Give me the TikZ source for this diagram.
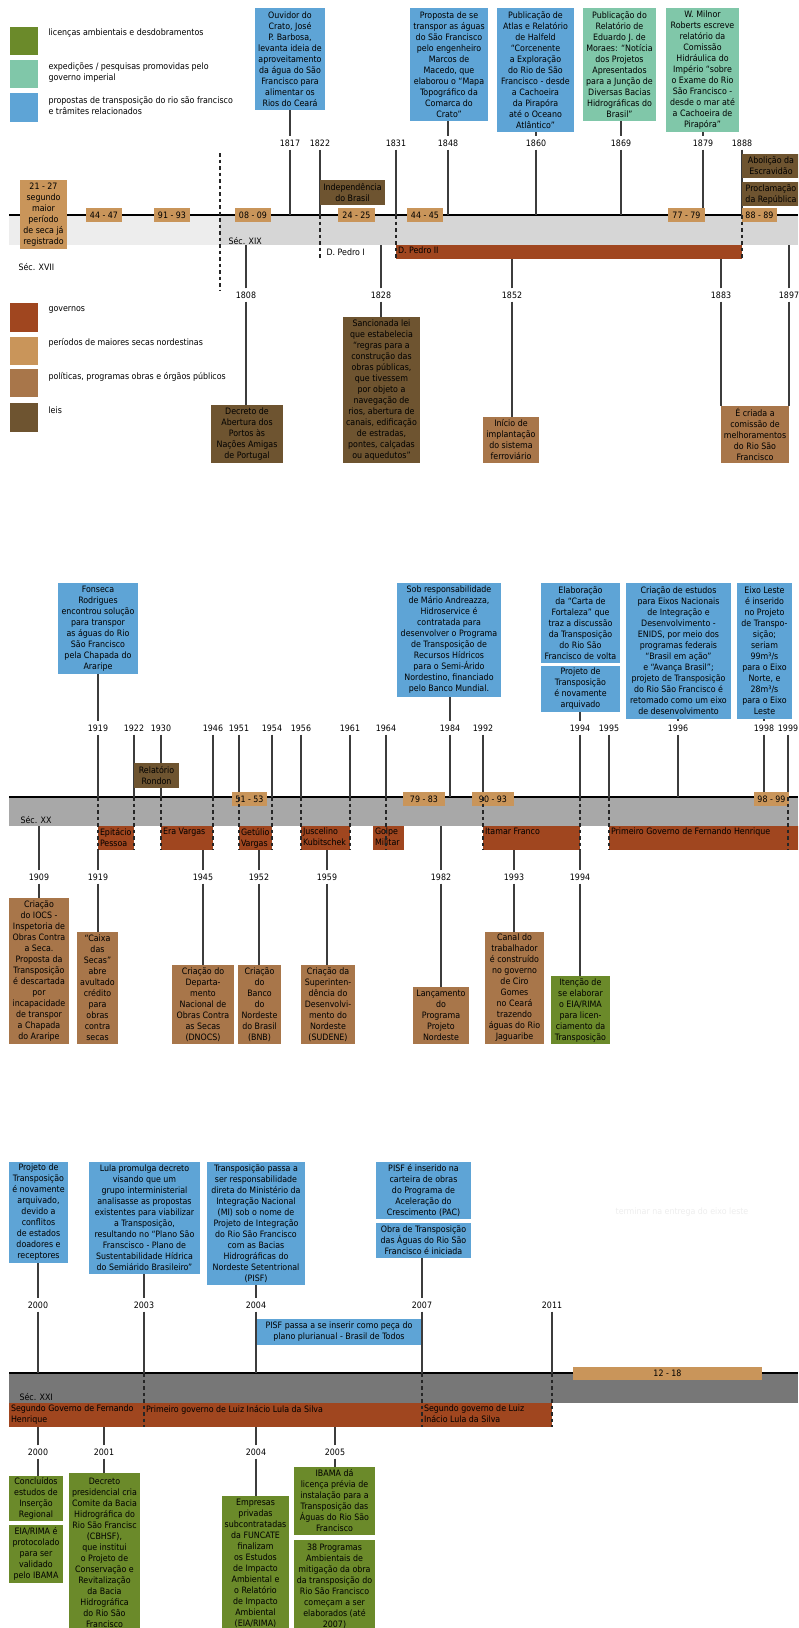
\documentclass[tikz,border=0pt]{standalone}
\usepackage{fontspec}
\setmainfont{DejaVu Sans Condensed}
\usepackage{tikz}
\usetikzlibrary{calc}
\definecolor{cblue}{HTML}{5EA4D6}
\definecolor{cteal}{HTML}{80C7A9}
\definecolor{cgreen}{HTML}{6B8A2A}
\definecolor{cgov}{HTML}{A0461F}
\definecolor{cseca}{HTML}{C9955A}
\definecolor{cpol}{HTML}{A8764A}
\definecolor{cleis}{HTML}{6E5430}
\definecolor{cline}{HTML}{3C3C3C}
\definecolor{bandA}{HTML}{EDEDED}
\definecolor{bandB}{HTML}{D6D6D6}
\definecolor{bandC}{HTML}{A8A8A8}
\definecolor{bandD}{HTML}{777777}

\begin{document}
\begin{tikzpicture}[x=1pt,y=-1pt,font=\fontsize{8.8}{11}\selectfont,
  ev/.style={inner sep=0pt,align=center},
  pr/.style={ev,fill=cblue}, ex/.style={ev,fill=cteal}, li/.style={ev,fill=cgreen},
  se/.style={ev,fill=cseca}, po/.style={ev,fill=cpol}, le/.style={ev,fill=cleis},
  go/.style={inner sep=0pt,fill=cgov},
  yr/.style={inner xsep=1pt,inner ysep=3pt},
  tick/.style={draw=cline,line width=1.2pt},
  cut/.style={draw=black!85,line width=1.1pt,dash pattern=on 3.5pt off 3pt}]
 \def\ebox#1#2#3#4#5#6#7{\pgfmathsetmacro\bw{#5-#3}\pgfmathsetmacro\bh{#6-#4}%
   \node[#2,minimum width=\bw pt,minimum height=\bh pt] (#1) at ({(#3+#5)/2},{(#4+#6)/2}) {#7};}
 \def\gov#1#2#3#4#5#6{\pgfmathsetmacro\bw{#4-#2}\pgfmathsetmacro\bh{#5-#3}%
   \node[go,minimum width=\bw pt,minimum height=\bh pt] (#1) at ({(#2+#4)/2},{(#3+#5)/2}) {};
   \node[anchor=north west,inner sep=0pt,align=left] (#1t) at ([xshift=2pt,yshift=-2pt]#1.north west) {#6};}
 \useasboundingbox (0,0) rectangle (798,1628);
 \clip (0,0) rectangle (798,1628);

 % legendas
 \ebox{kli}{li}{10}{27}{38}{55}{}
 \node[anchor=west] (tli) at (45,33) {licenças ambientais e desdobramentos};
 \ebox{kex}{ex}{10}{60}{38}{88}{}
 \node[anchor=west,align=left] (tex) at (45,72.5) {expedições / pesquisas promovidas pelo\\governo imperial};
 \ebox{kpr}{pr}{10}{93}{38}{122}{}
 \node[anchor=west,align=left] (tpr) at (45,105.5) {propostas de transposição do rio são francisco\\e trâmites relacionados};
 \ebox{kgo}{go}{10}{303}{38}{332}{}
 \node[anchor=west] (tgo) at (45,310) {governos};
 \ebox{kse}{se}{10}{337}{38}{365}{}
 \node[anchor=west] (tse) at (45,343) {períodos de maiores secas nordestinas};
 \ebox{kpo}{po}{10}{369}{38}{397}{}
 \node[anchor=west] (tpo) at (45,377) {políticas, programas obras e órgãos públicos};
 \ebox{kle}{le}{10}{403}{38}{432}{}
 \node[anchor=west] (tle) at (45,410) {leis};

 % seculo XVII e XIX
 \fill[bandA] (9,216) rectangle (220,245);
 \fill[bandB] (220,216) rectangle (798,245);
 \coordinate (axA) at (9,215); \coordinate (bbA) at (9,245);
 \draw[line width=2.6pt] (axA) -- ++(789,0);
 \node[anchor=west] (s17) at (15,267) {Séc. XVII};
 \node[anchor=west] (s19) at (225,241) {Séc. XIX};
 \foreach \y/\x in {1817/290,1822/320,1831/396,1848/448,1860/536,1869/621,1879/703,1888/742}
   \node[yr] (y\y) at (\x,143) {\y};
 \foreach \y/\x in {1808/246,1828/381,1852/512,1883/721,1897/789}
   \node[yr] (z\y) at (\x,295) {\y};
 \foreach \y in {1817,1822,1831,1848,1860,1869,1879,1888}
   \draw[tick] (y\y) -- (y\y |- axA);
 \ebox{b1817}{pr}{255}{8}{325}{110}{Ouvidor do\\Crato, José\\P. Barbosa,\\levanta ideia de\\aproveitamento\\da água do São\\Francisco para\\alimentar os\\Rios do Ceará}
 \ebox{b1848}{pr}{410}{8}{488}{121}{Proposta de se\\transpor as águas\\do São Francisco\\pelo engenheiro\\Marcos de\\Macedo, que\\elaborou o “Mapa\\Topográfico da\\Comarca do\\Crato”}
 \ebox{b1860}{pr}{497}{8}{574}{132}{Publicação de\\Atlas e Relatório\\de Halfeld\\“Corcenente\\a Exploração\\do Rio de São\\Francisco - desde\\a Cachoeira\\da Pirapóra\\até o Oceano\\Atlântico”}
 \ebox{b1869}{ex}{583}{8}{656}{121}{Publicação do\\Relatório de\\Eduardo J. de\\Moraes: “Notícia\\dos Projetos\\Apresentados\\para a Junção de\\Diversas Bacias\\Hidrográficas do\\Brasil”}
 \ebox{b1879}{ex}{666}{8}{739}{132}{W. Milnor\\Roberts escreve\\relatório da\\Comissão\\Hidráulica do\\Império “sobre\\o Exame do Rio\\São Francisco -\\desde o mar até\\a Cachoeira de\\Pirapóra”}
 \ebox{lind}{le}{320}{180}{385}{205}{Independência\\do Brasil}
 \ebox{labo}{le}{742}{154}{800}{178}{Abolição da\\Escravidão}
 \ebox{lpro}{le}{742}{182}{800}{206}{Proclamação\\da República}
 \ebox{s21}{se}{20}{180}{67}{249}{21 - 27\\segundo\\maior\\período\\de seca já\\registrado}
 \ebox{s44}{se}{86}{208}{122}{222}{44 - 47}
 \ebox{s91}{se}{154}{208}{190}{222}{91 - 93}
 \ebox{s08}{se}{235}{208}{271}{222}{08 - 09}
 \ebox{s24}{se}{338}{208}{375}{222}{24 - 25}
 \ebox{s45}{se}{407}{208}{443}{222}{44 - 45}
 \ebox{s77}{se}{668}{208}{705}{222}{77 - 79}
 \ebox{s88}{se}{742}{208}{777}{222}{88 - 89}
 \gov{gP2}{396}{245}{742}{259}{D. Pedro II}
 \node[anchor=west] (gP1) at (323,252) {D. Pedro I};
 \draw[cut] (220,153) -- (220,290);
 \draw[cut] (y1822 |- axA) -- ++(0,43);
 \foreach \y in {1831,1888} \draw[cut] (y\y |- axA) -- (y\y |- gP2.south);
 \ebox{c1808}{le}{211}{405}{283}{463}{Decreto de\\Abertura dos\\Portos às\\Nações Amigas\\de Portugal}
 \ebox{c1828}{le}{343}{317}{420}{463}{Sancionada lei\\que estabelecia\\“regras para a\\construção das\\obras públicas,\\que tivessem\\por objeto a\\navegação de\\rios, abertura de\\canais, edificação\\de estradas,\\pontes, calçadas\\ou aquedutos”}
 \ebox{c1852}{po}{483}{417}{539}{463}{Início de\\implantação\\do sistema\\ferroviário}
 \ebox{c1883}{po}{721}{406}{789}{463}{É criada a\\comissão de\\melhoramentos\\do Rio São\\Francisco}
 \foreach \y in {1817,1848,1860,1879} \draw[tick] (y\y |- b\y.south) -- (y\y);
 \draw[tick] (y1869 |- b1869.south) -- (y1869);
 \foreach \y in {1808,1828,1897} \draw[tick] (z\y) -- (z\y |- bbA);
 \foreach \y in {1852,1883} \draw[tick] (z\y) -- (z\y |- gP2.south);
 \foreach \y in {1808,1828,1852,1883} \draw[tick] (z\y) -- (z\y |- c\y.north);
 \draw[tick] (z1897) -- (z1897 |- c1883.north);

 % seculo XX
 \fill[bandC] (9,798) rectangle (798,826);
 \coordinate (axB) at (9,797); \coordinate (bbB) at (9,826);
 \draw[line width=2pt] (axB) -- ++(789,0);
 \node[anchor=west] (s20) at (17,820) {Séc. XX};
 \foreach \y/\x in {1919/98,1922/134,1930/161,1946/213,1951/239,1954/272,1956/301,1961/350,1964/386,
   1984/450,1992/483,1994/580,1995/609,1996/678,1998/764,1999/788}
   {\node[yr] (y\y) at (\x,728) {\y};
    \draw[tick] (y\y) -- (y\y |- axB);}
 \foreach \y/\x in {1909/39,1919/98,1945/203,1952/259,1959/327,1982/441,1993/514,1994/580}
   \node[yr] (z\y) at (\x,877) {\y};
 \ebox{b1919}{pr}{58}{583}{138}{674}{Fonseca\\Rodrigues\\encontrou solução\\para transpor\\as águas do Rio\\São Francisco\\pela Chapada do\\Araripe}
 \ebox{b1984}{pr}{397}{583}{501}{697}{Sob responsabilidade\\de Mário Andreazza,\\Hidroservice é\\contratada para\\desenvolver o Programa\\de Transposição de\\Recursos Hídricos\\para o Semi-Árido\\Nordestino, financiado\\pelo Banco Mundial.}
 \ebox{bcar}{pr}{541}{583}{620}{663}{Elaboração\\da “Carta de\\Fortaleza” que\\traz a discussão\\da Transposição\\do Rio São\\Francisco de volta}
 \ebox{b1994}{pr}{541}{666}{620}{712}{Projeto de\\Transposição\\é novamente\\arquivado}
 \ebox{b1996}{pr}{626}{583}{731}{719}{Criação de estudos\\para Eixos Nacionais\\de Integração e\\Desenvolvimento -\\ENIDS, por meio dos\\programas federais\\“Brasil em ação”\\e “Avança Brasil”;\\projeto de Transposição\\do Rio São Francisco é\\retomado como um eixo\\de desenvolvimento}
 \ebox{b1998}{pr}{737}{583}{792}{719}{Eixo Leste\\é inserido\\no Projeto\\de Transpo-\\sição;\\seriam\\99m³/s\\para o Eixo\\Norte, e\\28m³/s\\para o Eixo\\Leste}
 \ebox{lron}{le}{134}{763}{179}{788}{Relatório\\Rondon}
 \ebox{s51}{se}{232}{792}{267}{806}{51 - 53}
 \ebox{s79}{se}{403}{792}{445}{806}{79 - 83}
 \ebox{s90}{se}{472}{792}{514}{806}{90 - 93}
 \ebox{s98}{se}{754}{792}{789}{806}{98 - 99}
 \gov{gEP}{98}{826}{134}{850}{Epitácio\\Pessoa}
 \gov{gEV}{161}{826}{213}{850}{Era Vargas}
 \gov{gGV}{239}{826}{272}{850}{Getúlio\\Vargas}
 \gov{gJK}{301}{826}{350}{850}{Juscelino\\Kubitschek}
 \gov{gGM}{373}{826}{404}{850}{Golpe\\Militar}
 \gov{gIF}{483}{826}{580}{850}{Itamar Franco}
 \gov{gFH}{609}{826}{800}{850}{Primeiro Governo de Fernando Henrique}
 \foreach \y in {1919,1922,1930,1946,1951,1954,1956,1961,1964,1992,1994,1995,1999}
   \draw[cut] (y\y |- axB) -- (y\y |- gEP.south);
 \ebox{c1909}{po}{9}{898}{69}{1044}{Criação\\do IOCS -\\Inspetoria de\\Obras Contra\\a Seca.\\Proposta da\\Transposição\\é descartada\\por\\incapacidade\\de transpor\\a Chapada\\do Araripe}
 \ebox{c1919}{po}{77}{932}{118}{1044}{“Caixa\\das\\Secas”\\abre\\avultado\\crédito\\para\\obras\\contra\\secas}
 \ebox{c1945}{po}{172}{965}{234}{1044}{Criação do\\Departa-\\mento\\Nacional de\\Obras Contra\\as Secas\\(DNOCS)}
 \ebox{c1952}{po}{238}{965}{281}{1044}{Criação\\do\\Banco\\do\\Nordeste\\do Brasil\\(BNB)}
 \ebox{c1959}{po}{301}{965}{355}{1044}{Criação da\\Superinten-\\dência do\\Desenvolvi-\\mento do\\Nordeste\\(SUDENE)}
 \ebox{c1982}{po}{413}{987}{469}{1044}{Lançamento\\do\\Programa\\Projeto\\Nordeste}
 \ebox{c1993}{po}{485}{932}{544}{1044}{Canal do\\trabalhador\\é construído\\no governo\\de Ciro\\Gomes\\no Ceará\\trazendo\\águas do Rio\\Jaguaribe}
 \ebox{c1994}{li}{551}{976}{610}{1044}{Itenção de\\se elaborar\\o EIA/RIMA\\para licen-\\ciamento da\\Transposição}
 \foreach \y in {1919,1984,1994,1996,1998} \draw[tick] (y\y |- b\y.south) -- (y\y);
 \foreach \y in {1909,1982} \draw[tick] (z\y) -- (z\y |- bbB);
 \foreach \y/\g in {1919/gEP,1945/gEV,1952/gGV,1959/gJK,1993/gIF,1994/gIF}
   \draw[tick] (z\y) -- (z\y |- \g.south);
 \foreach \y in {1909,1919,1945,1952,1959,1982,1993,1994} \draw[tick] (z\y) -- (z\y |- c\y.north);

 % seculo XXI
 \fill[bandD] (9,1374) rectangle (798,1403);
 \coordinate (axC) at (9,1373);
 \draw[line width=1.5pt] (axC) -- ++(789,0);
 \node[anchor=west] (s21c) at (16,1397) {Séc. XXI};
 \foreach \y/\x in {2000/38,2003/144,2004/256,2007/422,2011/552}
   {\node[yr] (y\y) at (\x,1305) {\y};
    \draw[tick] (y\y) -- (y\y |- axC);}
 \foreach \y/\x in {2000/38,2001/104,2004/256,2005/335}
   \node[yr] (z\y) at (\x,1452) {\y};
 \ebox{b2000}{pr}{9}{1162}{68}{1263}{Projeto de\\Transposição\\é novamente\\arquivado,\\devido a\\conflitos\\de estados\\doadores e\\receptores}
 \ebox{b2003}{pr}{89}{1162}{200}{1274}{Lula promulga decreto\\visando que um\\grupo interministerial\\analisasse as propostas\\existentes para viabilizar\\a Transposição,\\resultando no “Plano São\\Franscisco - Plano de\\Sustentabilidade Hídrica\\do Semiárido Brasileiro”}
 \ebox{b2004}{pr}{207}{1162}{305}{1285}{Transposição passa a\\ser responsabilidade\\direta do Ministério da\\Integração Nacional\\(MI) sob o nome de\\Projeto de Integração\\do Rio São Francisco\\com as Bacias\\Hidrográficas do\\Nordeste Setentrional\\(PISF)}
 \ebox{bppa}{pr}{257}{1319}{421}{1345}{PISF passa a se inserir como peça do\\plano plurianual - Brasil de Todos}
 \ebox{bpac}{pr}{376}{1162}{471}{1219}{PISF é inserido na\\carteira de obras\\do Programa de\\Aceleração do\\Crescimento (PAC)}
 \ebox{b2007}{pr}{376}{1223}{471}{1258}{Obra de Transposição\\das Águas do Rio São\\Francisco é iniciada}
 \ebox{s12}{se}{573}{1367}{762}{1380}{12 - 18}
 \node[text=black!7] (nota) at (682,1212) {terminar na entrega do eixo leste};
 \gov{gFH2}{9}{1403}{144}{1427}{Segundo Governo de Fernando\\Henrique}
 \gov{gL1}{144}{1403}{422}{1427}{Primeiro governo de Luiz Inácio Lula da Silva}
 \gov{gL2}{422}{1403}{552}{1427}{Segundo governo de Luiz\\Inácio Lula da Silva}
 \foreach \y in {2003,2007,2011} \draw[cut] (y\y |- axC) -- (y\y |- gL1.south);
 \ebox{c2000}{li}{9}{1476}{63}{1521}{Concluídos\\estudos de\\Inserção\\Regional}
 \ebox{c2000b}{li}{9}{1525}{63}{1583}{EIA/RIMA é\\protocolado\\para ser\\validado\\pelo IBAMA}
 \ebox{c2001}{li}{69}{1473}{140}{1633}{Decreto\\presidencial cria\\Comite da Bacia\\Hidrográfica do\\Rio São Francisc\\(CBHSF),\\que institui\\o Projeto de\\Conservação e\\Revitalização\\da Bacia\\Hidrográfica\\do Rio São\\Francisco}
 \ebox{c2004}{li}{222}{1496}{289}{1630}{Empresas\\privadas\\subcontratadas\\da FUNCATE\\finalizam\\os Estudos\\de Impacto\\Ambiental e\\o Relatório\\de Impacto\\Ambiental\\(EIA/RIMA)}
 \ebox{c2005}{li}{294}{1467}{375}{1535}{IBAMA dá\\licença prévia de\\instalação para a\\Transposição das\\Águas do Rio São\\Francisco}
 \ebox{c2005b}{li}{294}{1540}{375}{1632}{38 Programas\\Ambientais de\\mitigação da obra\\da transposição do\\Rio São Francisco\\começam a ser\\elaborados (até\\2007)}
 \foreach \y in {2000,2003,2004} \draw[tick] (y\y |- b\y.south) -- (y\y);
 \draw[tick] (y2007 |- b2007.south) -- (y2007);
 \foreach \y/\g in {2000/gFH2,2001/gFH2,2004/gL1,2005/gL1}
   {\draw[tick] (z\y) -- (z\y |- \g.south);
    \draw[tick] (z\y) -- (z\y |- c\y.north);}
\end{tikzpicture}
\end{document}
